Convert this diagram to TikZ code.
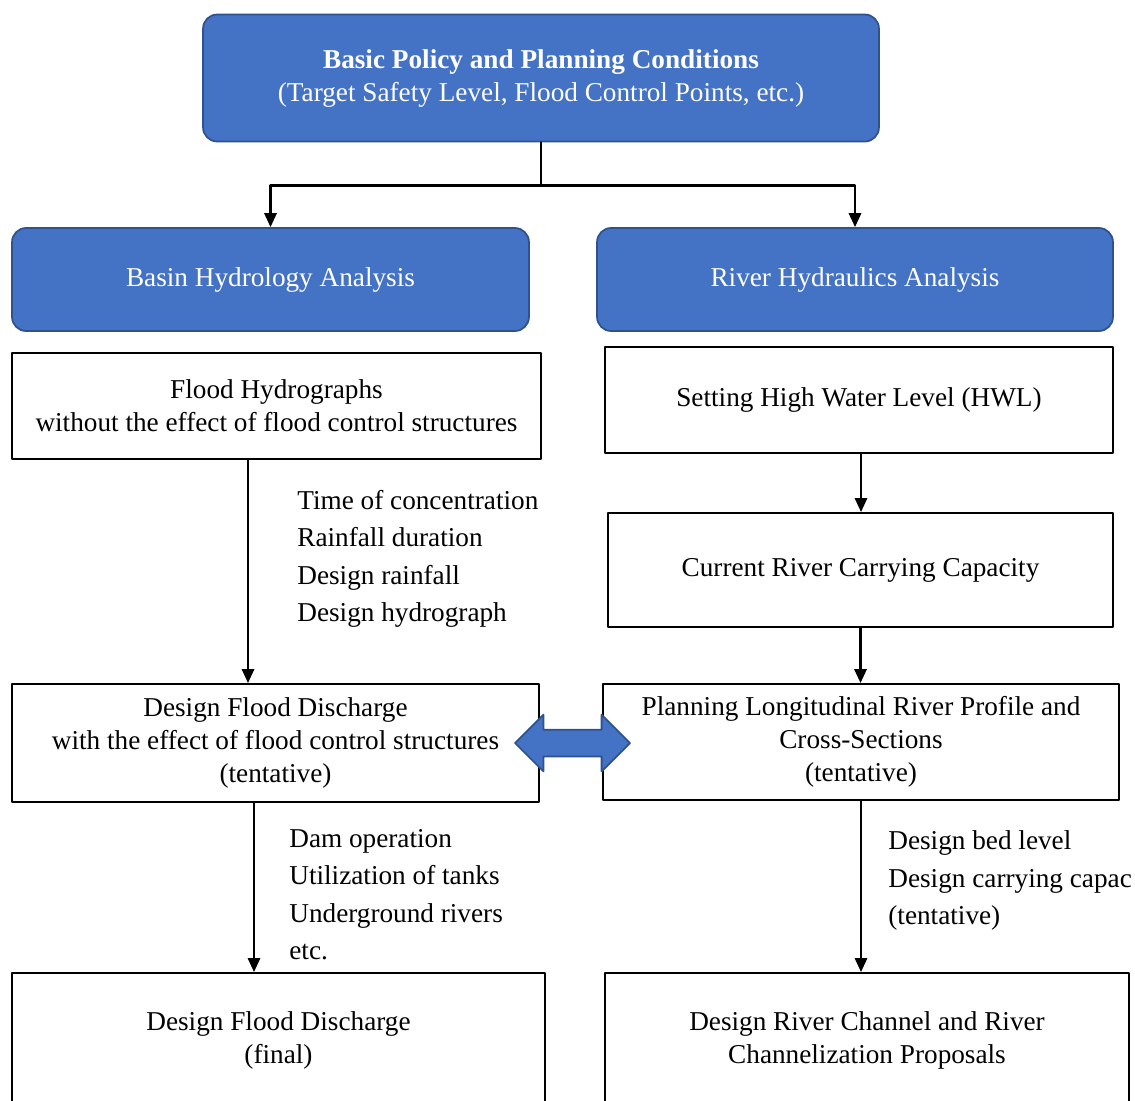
\documentclass[tikz,border=0pt]{standalone}
\usepackage{fontspec}
\setmainfont{Liberation Serif}
\usetikzlibrary{arrows.meta,shapes.arrows}
\definecolor{boxblue}{HTML}{4472C4}
\definecolor{boxline}{HTML}{2F528F}
\def\txtsize{\fontsize{15.5}{18.8}\selectfont}
\def\notesize{\fontsize{15.5}{21.3}\selectfont}
\tikzset{
  blk/.style={
    draw=boxline,fill=boxblue,line width=1pt,
    rounded corners=8pt,text=white,
    align=center,font=\txtsize
},
  wbox/.style={draw=black,line width=1.1pt,fill=white,align=center,font=\txtsize},
  note/.style={anchor=west,align=left,inner sep=0pt,font=\notesize},
  conn/.style={line width=1.3pt,-{Triangle[width=7pt,length=8pt]}},
  dbl/.style={
    shape=double arrow,draw=boxline,fill=boxblue,line width=1pt,
    minimum width=1.1cm,minimum height=2.3cm,
    double arrow head extend=0.3cm,inner xsep=0pt,inner ysep=0.25cm
}
}

\begin{document}
\begin{tikzpicture}[x=0.02cm,y=-0.02cm,line cap=round,line join=round]
\useasboundingbox (0,0) rectangle (1135,1100);
% top
\node[blk,minimum width=13.52cm,minimum height=2.54cm] (basic) at (541,78)
    {\textbf{Basic Policy and Planning Conditions}\\(Target Safety Level, Flood Control Points, etc.)};
\node[blk,minimum width=10.34cm,minimum height=2.06cm] (hydro) at (270.5,279.5) {Basin Hydrology Analysis};
\node[blk,minimum width=10.32cm,minimum height=2.06cm] (hydra) at (855,279.5) {River Hydraulics Analysis};
% left column
\node[wbox,minimum width=10.58cm,minimum height=2.12cm] (fhyd) at (276.5,406)
    {Flood Hydrographs\\without the effect of flood control structures};
\node[wbox,minimum width=10.54cm,minimum height=2.36cm] (dfdt) at (275.5,743)
    {Design Flood Discharge\\with the effect of flood control structures\\(tentative)};
\node[wbox,minimum width=10.66cm,minimum height=2.68cm] (dfdf) at (278.5,1040)
    {Design Flood Discharge\\(final)};
% right column
\node[wbox,minimum width=10.16cm,minimum height=2.12cm] (hwl) at (859,400) {Setting High Water Level (HWL)};
\node[wbox,minimum width=10.1cm,minimum height=2.28cm] (crcc) at (860.5,570) {Current River Carrying Capacity};
\node[wbox,minimum width=10.32cm,minimum height=2.32cm] (plrp) at (861,742)
    {Planning Longitudinal River Profile and\\Cross-Sections\\(tentative)};
\node[wbox,minimum width=10.48cm,minimum height=2.68cm] (drcp) at (867,1040)
    {Design River Channel and River\\Channelization Proposals};
\node[dbl] (link) at (572.5,743) {};
% notes
\node[note] (n1) at (297,559) {Time of concentration\\Rainfall duration\\Design rainfall\\Design hydrograph};
\node[note] (n2) at (289,894.5) {Dam operation\\Utilization of tanks\\Underground rivers\\etc.};
\node[note] (n3) at (888,880.5) {Design bed level\\Design carrying capac\\(tentative)};
% connectors
\draw[line width=1.3pt] (basic.south) -- ++(0,43) coordinate (split);
\foreach \t in {hydro,hydra}{
    \draw[conn] (split) -| (\t.north);
}
\draw[conn] ([xshift=-0.57cm]fhyd.south) -- ([xshift=-0.57cm]fhyd.south |- dfdt.north);
\draw[conn] ([xshift=-0.43cm]dfdt.south) -- ([xshift=-0.43cm]dfdt.south |- dfdf.north);
\draw[conn] ([xshift=0.04cm]hwl.south) -- ([xshift=0.04cm]hwl.south |- crcc.north);
\draw[conn] (crcc.south) -- (crcc.south |- plrp.north);
\draw[conn] (plrp.south) -- (plrp.south |- drcp.north);
\end{tikzpicture}
\end{document}
